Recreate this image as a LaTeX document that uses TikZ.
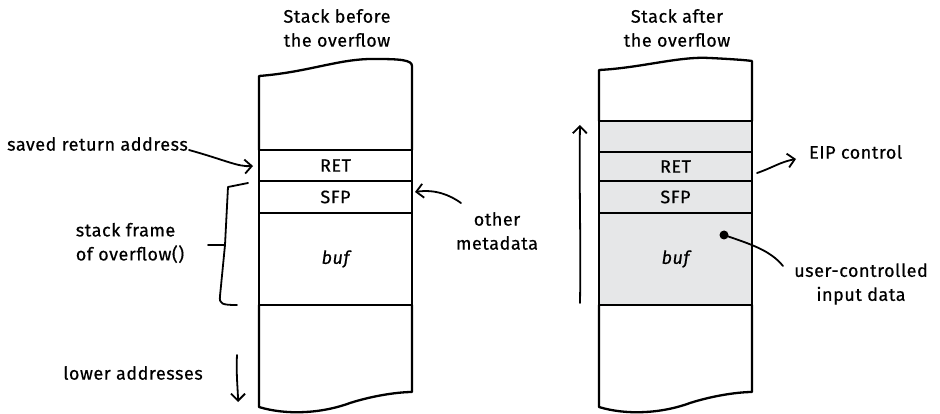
\documentclass[tikz,border=0pt]{standalone}
\usepackage{fontspec}
\setmainfont{Fira Sans}[FakeBold=0.5, LetterSpace=3]
\usetikzlibrary{arrows.meta}
\definecolor{fillgray}{HTML}{E6E7E8}
\begin{document}
\begin{tikzpicture}[x=1pt,y=-1pt,
  line width=2.3pt, line cap=round, line join=round,
  lbl/.style={font=\fontsize{18}{24}\selectfont, inner sep=0pt, align=center},
  cell/.style={draw, line width=2.3pt, minimum width=153pt, inner sep=0pt, font=\fontsize{18}{24}\selectfont},
  gcell/.style={cell, fill=fillgray},
  arr/.style={-{Straight Barb[length=7pt,width=14pt,line width=1.8pt]}, line width=1.8pt},
  thin/.style={line width=1.8pt}]
\useasboundingbox (0,0) rectangle (940,414);

% ---------- left stack ----------
\draw (259,150) -- (259,76) .. controls (310,72) and (340,58) .. (377,59)
      .. controls (400,59) and (412,60) .. (412,66) -- (412,150);
\node[cell, minimum height=31pt] (lret) at (335.5,165.5) {RET};
\node[cell, minimum height=32pt] (lsfp) at (335.5,197) {SFP};
\node[cell, minimum height=92pt, font=\fontsize{18}{24}\selectfont\itshape] (lbuf) at (335.5,259) {buf};
\draw (259,305) -- (259,407) .. controls (285,415) and (320,414) .. (350,403)
      .. controls (375,395) and (400,392) .. (412,392) -- (412,305);

\node[lbl] (tl) at (337,28) {Stack before\\the overflow};

% ---------- right stack ----------
\draw (599,121) -- (599,70) .. controls (640,68) and (680,56) .. (710,58)
      .. controls (730,59) and (745,60) .. (752,61) -- (752,121);
\node[gcell, minimum height=31pt] (rtop) at (675.5,136.5) {};
\node[gcell, minimum height=29pt] (rret) at (675.5,166.5) {RET};
\node[gcell, minimum height=32pt] (rsfp) at (675.5,197) {SFP};
\node[gcell, minimum height=92pt, font=\fontsize{18}{24}\selectfont\itshape] (rbuf) at (675.5,259) {buf};
\draw (599,305) -- (599,407) .. controls (625,415) and (660,414) .. (690,403)
      .. controls (715,395) and (740,392) .. (752,392) -- (752,305);

\node[lbl] (tr) at (677,28) {Stack after\\the overflow};

% ---------- left labels ----------
\node[lbl, anchor=west] (sra) at (6,144) {saved return address};
\coordinate (sraend) at (253,166);
\draw[arr] (sra.east) ++(0,6) .. controls (225,160) and (238,167) .. (sraend);

\node[lbl] (om) at (497,231) {other\\metadata};
\coordinate (omend) at (415,192);
\draw[arr] (om.north) ++(-36,-8) .. controls (450,195) and (435,189) .. (omend);

\node[lbl, align=left] (sf) at (130,243) {stack frame\\of overflow()};
\coordinate (b1) at (248,183);
\coordinate (b2) at (237,305);
\coordinate (bt) at (208,245);
\draw[thin] (b1) -- (228,187) -- (225,245) -- (220,296) .. controls (219,304) and (222,305) .. (b2);
\draw[thin] (bt) -- (225,245);

\node[lbl] (la) at (133,373) {lower addresses};
\coordinate (la1) at (237,355);
\coordinate (la2) at (238,402);
\draw[arr] (la1) .. controls (236,375) and (238,390) .. (la2);

% ---------- right labels ----------
\coordinate (up1) at (580,303);
\coordinate (up2) at (580,125);
\draw[arr] (up1) .. controls (581,240) and (579,180) .. (up2);

\node[lbl, anchor=west] (eip) at (808,152) {EIP control};
\coordinate (eip1) at (757,173);
\draw[arr] (eip1) .. controls (772,168) and (780,162) .. (796,159);

\node[lbl] (ucd) at (861,284) {user-controlled\\input data};
\node[circle, fill, inner sep=0pt, minimum size=9pt] (dot) at (724,235) {};
\draw[thin] (dot.center) .. controls (750,244) and (770,250) .. (783,266);
\end{tikzpicture}
\end{document}
